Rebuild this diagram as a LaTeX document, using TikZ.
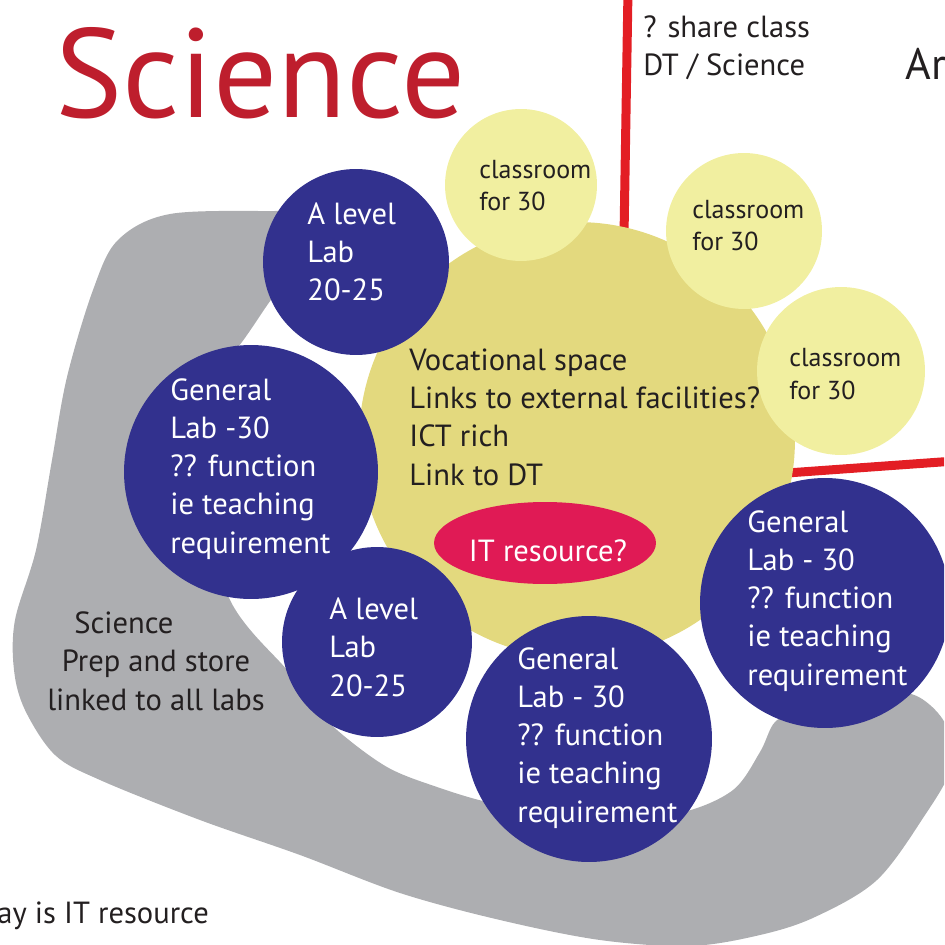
\documentclass[tikz,border=0pt]{standalone}
\usepackage{fontspec}
\setmainfont{PT Sans}
\usetikzlibrary{shapes.geometric}

\definecolor{labblue}{HTML}{32318E}
\definecolor{vockhaki}{HTML}{E3D97E}
\definecolor{roomyellow}{HTML}{F1EFA0}
\definecolor{prepgrey}{HTML}{ADAEB1}
\definecolor{itpink}{HTML}{E01A55}
\definecolor{zonered}{HTML}{E31E24}
\definecolor{titlered}{HTML}{BE1E2D}
\definecolor{inkdark}{HTML}{231F20}

\begin{document}
\begin{tikzpicture}[x=0.02cm, y=-0.02cm,
	labcirc/.style={circle, fill=labblue, inner sep=0pt},
	roomcirc/.style={circle, fill=roomyellow, inner sep=0pt},
	labtext/.style={anchor=base west, align=left, inner sep=0pt, text=white,
		font=\fontsize{17.4}{21.75}\selectfont},
	roomtext/.style={anchor=base west, align=left, inner sep=0pt, text=inkdark,
		font=\fontsize{14.8}{18.7}\selectfont},
	note/.style={anchor=base west, align=left, inner sep=0pt, text=inkdark,
		font=\fontsize{17.4}{21.75}\selectfont},
	zoneline/.style={draw=zonered, line width=0.18cm}
	]
	\useasboundingbox (0,0) rectangle (944,945);
	\begin{scope}
	\clip (0,0) rectangle (944,945);

	%% prep and store band
	\fill[prepgrey] plot[smooth cycle, tension=0.55] coordinates {
		(310,212) (275,211) (170,214) (118,240) (93,290) (67,377) (52,460)
		(36,550) (15,620) (14,670) (25,710) (55,755) (100,780) (200,820)
		(300,855) (400,893) (500,920) (600,940) (690,946) (760,935)
		(815,917) (877,880) (925,815) (950,770) (948,730) (930,705)
		(905,693) (860,700) (800,712) (775,722) (760,752) (733,790)
		(683,812) (620,815) (530,808) (487,802) (437,787) (387,767)
		(337,730) (305,695) (287,670) (230,600) (195,480) (213,367)
		(238,347) (273,297) (310,250)};

	%% zone boundaries
	\coordinate (dttop) at (628,-10);
	\coordinate (dtbot) at (624,236);
	\coordinate (artsleft) at (787,473);
	\coordinate (artsright) at (955,461);
	\draw[zoneline] (dttop) -- (dtbot);
	\draw[zoneline] (artsleft) -- (artsright);

	%% rooms
	\node[circle, fill=vockhaki, inner sep=0pt, minimum size=8.72cm] (voc) at (577,440) {};

	\node[roomcirc, minimum size=3.04cm] (room1) at (521,185) {};
	\node[roomcirc, minimum size=3.12cm] (room2) at (744,231) {};
	\node[roomcirc, minimum size=3.36cm] (room3) at (841,371) {};

	\node[labcirc, minimum size=3.72cm] (alevA) at (356,262) {};
	\node[labcirc, minimum size=5.08cm] (genA) at (251,472) {};
	\node[labcirc, minimum size=3.8cm] (alevB) at (377,642) {};
	\node[labcirc, minimum size=4.92cm] (genB) at (589,739) {};
	\node[labcirc, minimum size=5cm] (genC) at (825,603) {};

	\node[ellipse, fill=itpink, inner sep=0pt, minimum width=4.44cm, minimum height=1.64cm] (itres) at (545,543) {};
	\node[anchor=base, inner sep=0pt, text=white, font=\fontsize{17.4}{20}\selectfont]
		(itrestxt) at (548,561) {IT resource?};

	%% labels
	\node[anchor=base west, inner sep=0pt, text=titlered, font=\fontsize{72}{75}\selectfont]
		(title) at (55,118) {Science};
	\node[note] (share) at (643,76) {? share class\\DT / Science};
	\node[anchor=base west, inner sep=0pt, text=inkdark, font=\fontsize{25}{28}\selectfont]
		(arts) at (905,80) {Ar};

	\node[roomtext] (room1txt) at (479,211) {classroom\\for 30};
	\node[roomtext] (room2txt) at (692,251) {classroom\\for 30};
	\node[roomtext] (room3txt) at (789,399) {classroom\\for 30};

	\node[note] (voctxt) at (409,485) {Vocational space\\Links to external facilities?\\ICT rich\\Link to DT};

	\node[labtext] (alevAtxt) at (307,301) {A level\\Lab\\20-25};
	\node[labtext] (genAtxt) at (170,553) {General\\Lab -30\\?? function\\ie teaching\\requirement};
	\node[labtext] (alevBtxt) at (329,696) {A level\\Lab\\20-25};
	\node[labtext] (genBtxt) at (517,822) {General\\Lab - 30\\?? function\\ie teaching\\requirement};
	\node[labtext] (genCtxt) at (747,685) {General\\Lab - 30\\?? function\\ie teaching\\requirement};

	\node[note, align=center, anchor=base] (preptxt) at (156,710) {\hspace*{-2.1em}Science\\Prep and store\\linked to all labs};

	\node[note] (whyit) at (-3,923) {ay is IT resource};
	\end{scope}
\end{tikzpicture}
\end{document}
